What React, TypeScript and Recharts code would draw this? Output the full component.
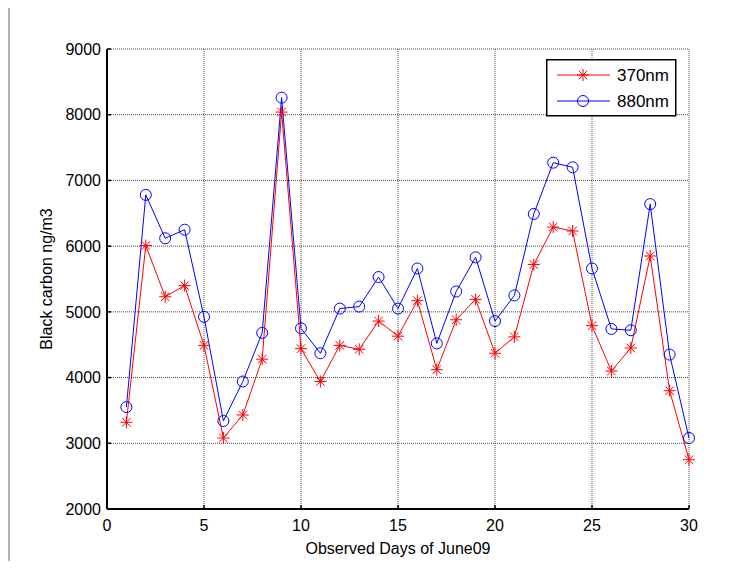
import React from "react";
import { LineChart, Line, XAxis, YAxis, CartesianGrid, Legend } from "recharts";

// observed days and black carbon values (ng/m3)
const days = Array.from({ length: 30 }, (_, i) => i + 1);
const bc370 = [
  3320, 6010, 5230, 5400, 4490, 3080, 3430, 4280, 8040, 4440,
  3940, 4490, 4430, 4860, 4630, 5170, 4120, 4880, 5190, 4370,
  4620, 5720, 6290, 6230, 4790, 4100, 4450, 5850, 3800, 2750,
];
const bc880 = [
  3550, 6780, 6120, 6250, 4925, 3340, 3940, 4680, 8260, 4750,
  4370, 5050, 5080, 5530, 5050, 5660, 4520, 5310, 5830, 4860,
  5250, 6490, 7270, 7200, 5660, 4740, 4720, 6640, 4350, 3080,
];
const xTicks = [0, 5, 10, 15, 20, 25, 30];
const yTicks = [2000, 3000, 4000, 5000, 6000, 7000, 8000, 9000];

const data = days.map((d, i) => ({ day: d, nm370: bc370[i], nm880: bc880[i] }));

const FONT = '"Liberation Sans", Arial, sans-serif';
const tickStyle = { fontSize: 16, fill: "#000", fontFamily: FONT };
const axisLine = { stroke: "#000", strokeWidth: 2 };
const tickLine = { stroke: "#000", strokeWidth: 1.5 };

// MATLAB style '*' marker
const Star = (props: any) => {
  const { cx, cy, color } = props;
  if (cx == null || cy == null) return null;
  const r = 6;
  const d = 4.3;
  return (
    <g stroke={color} strokeWidth={1} fill="none">
      <line x1={cx - r} y1={cy} x2={cx + r} y2={cy} />
      <line x1={cx} y1={cy - r} x2={cx} y2={cy + r} />
      <line x1={cx - d} y1={cy - d} x2={cx + d} y2={cy + d} />
      <line x1={cx - d} y1={cy + d} x2={cx + d} y2={cy - d} />
    </g>
  );
};

const Circle = (props: any) => {
  const { cx, cy, color } = props;
  if (cx == null || cy == null) return null;
  return <circle cx={cx} cy={cy} r={5.5} stroke={color} strokeWidth={1} fill="none" />;
};

const renderLegend = (props: any) => {
  const items = props.payload || [];
  return (
    <svg width={131} height={58} style={{ display: "block" }}>
      <rect x={0.75} y={0.75} width={129} height={56} fill="#fff" stroke="#000" strokeWidth={1.5} />
      {items.map((it: any, i: number) => {
        const y = 16 + i * 26;
        const color = it.color;
        return (
          <g key={it.value}>
            <line x1={11} y1={y} x2={64} y2={y} stroke={color} strokeWidth={1} />
            {i === 0 ? <Star cx={37} cy={y} color={color} /> : <Circle cx={37} cy={y} color={color} />}
            <text x={71} y={y + 6} fontSize={17} fontFamily={FONT} fill="#000">
              {it.value}
            </text>
          </g>
        );
      })}
    </svg>
  );
};

export default function App() {
  return (
    <div style={{ margin: -8, width: 750, height: 569, position: "relative", overflow: "hidden", background: "#fff" }}>
      <div
        style={{
          position: "absolute",
          left: 8,
          top: 6,
          width: 800,
          height: 700,
          borderLeft: "2px solid #b4b4b4",
          borderTop: "2px solid #b4b4b4",
        }}
      />
      <div style={{ position: "absolute", left: 0, top: 0 }}>
        <LineChart width={750} height={569} data={data} margin={{ top: 49, right: 61, bottom: 0, left: 37 }}>
          <CartesianGrid stroke="#4a4a4a" strokeDasharray="1 1" strokeWidth={1} />
          <XAxis
            dataKey="day"
            type="number"
            domain={[0, 30]}
            ticks={xTicks}
            height={60}
            tick={tickStyle}
            axisLine={axisLine}
            tickLine={tickLine}
            tickSize={-4}
            tickMargin={15}
            label={{ value: "Observed Days of June09", position: "insideBottom", offset: 15, style: { fontSize: 16, fill: "#000", fontFamily: FONT } }}
          />
          <XAxis
            xAxisId="top"
            dataKey="day"
            type="number"
            orientation="top"
            domain={[0, 30]}
            ticks={xTicks}
            height={0}
            tick={false}
            axisLine={axisLine}
            tickLine={tickLine}
            tickSize={-4}
          />
          <YAxis
            type="number"
            domain={[2000, 9000]}
            ticks={yTicks}
            width={70}
            tick={tickStyle}
            axisLine={axisLine}
            tickLine={tickLine}
            tickSize={-4}
            tickMargin={10}
            label={{ value: "Black carbon ng/m3", angle: -90, position: "insideLeft", offset: 9, style: { textAnchor: "middle", fontSize: 16, fill: "#000", fontFamily: FONT } }}
          />
          <YAxis
            yAxisId="right"
            orientation="right"
            type="number"
            domain={[2000, 9000]}
            ticks={yTicks}
            width={0}
            tick={false}
            axisLine={axisLine}
            tickLine={tickLine}
            tickSize={-4}
          />
          <Legend
            verticalAlign="middle"
            align="center"
            content={renderLegend}
            wrapperStyle={{ position: "absolute", left: 546, top: 59, width: 131, height: 58 }}
          />
          <Line
            dataKey="nm370"
            name="370nm"
            stroke="#ff0000"
            strokeWidth={1}
            isAnimationActive={false}
            dot={(p: any) => <Star key={`s${p.index}`} cx={p.cx} cy={p.cy} color="#ff0000" />}
            activeDot={false}
          />
          <Line
            dataKey="nm880"
            name="880nm"
            stroke="#0000ff"
            strokeWidth={1}
            isAnimationActive={false}
            dot={(p: any) => <Circle key={`c${p.index}`} cx={p.cx} cy={p.cy} color="#0000ff" />}
            activeDot={false}
          />
        </LineChart>
      </div>
    </div>
  );
}
